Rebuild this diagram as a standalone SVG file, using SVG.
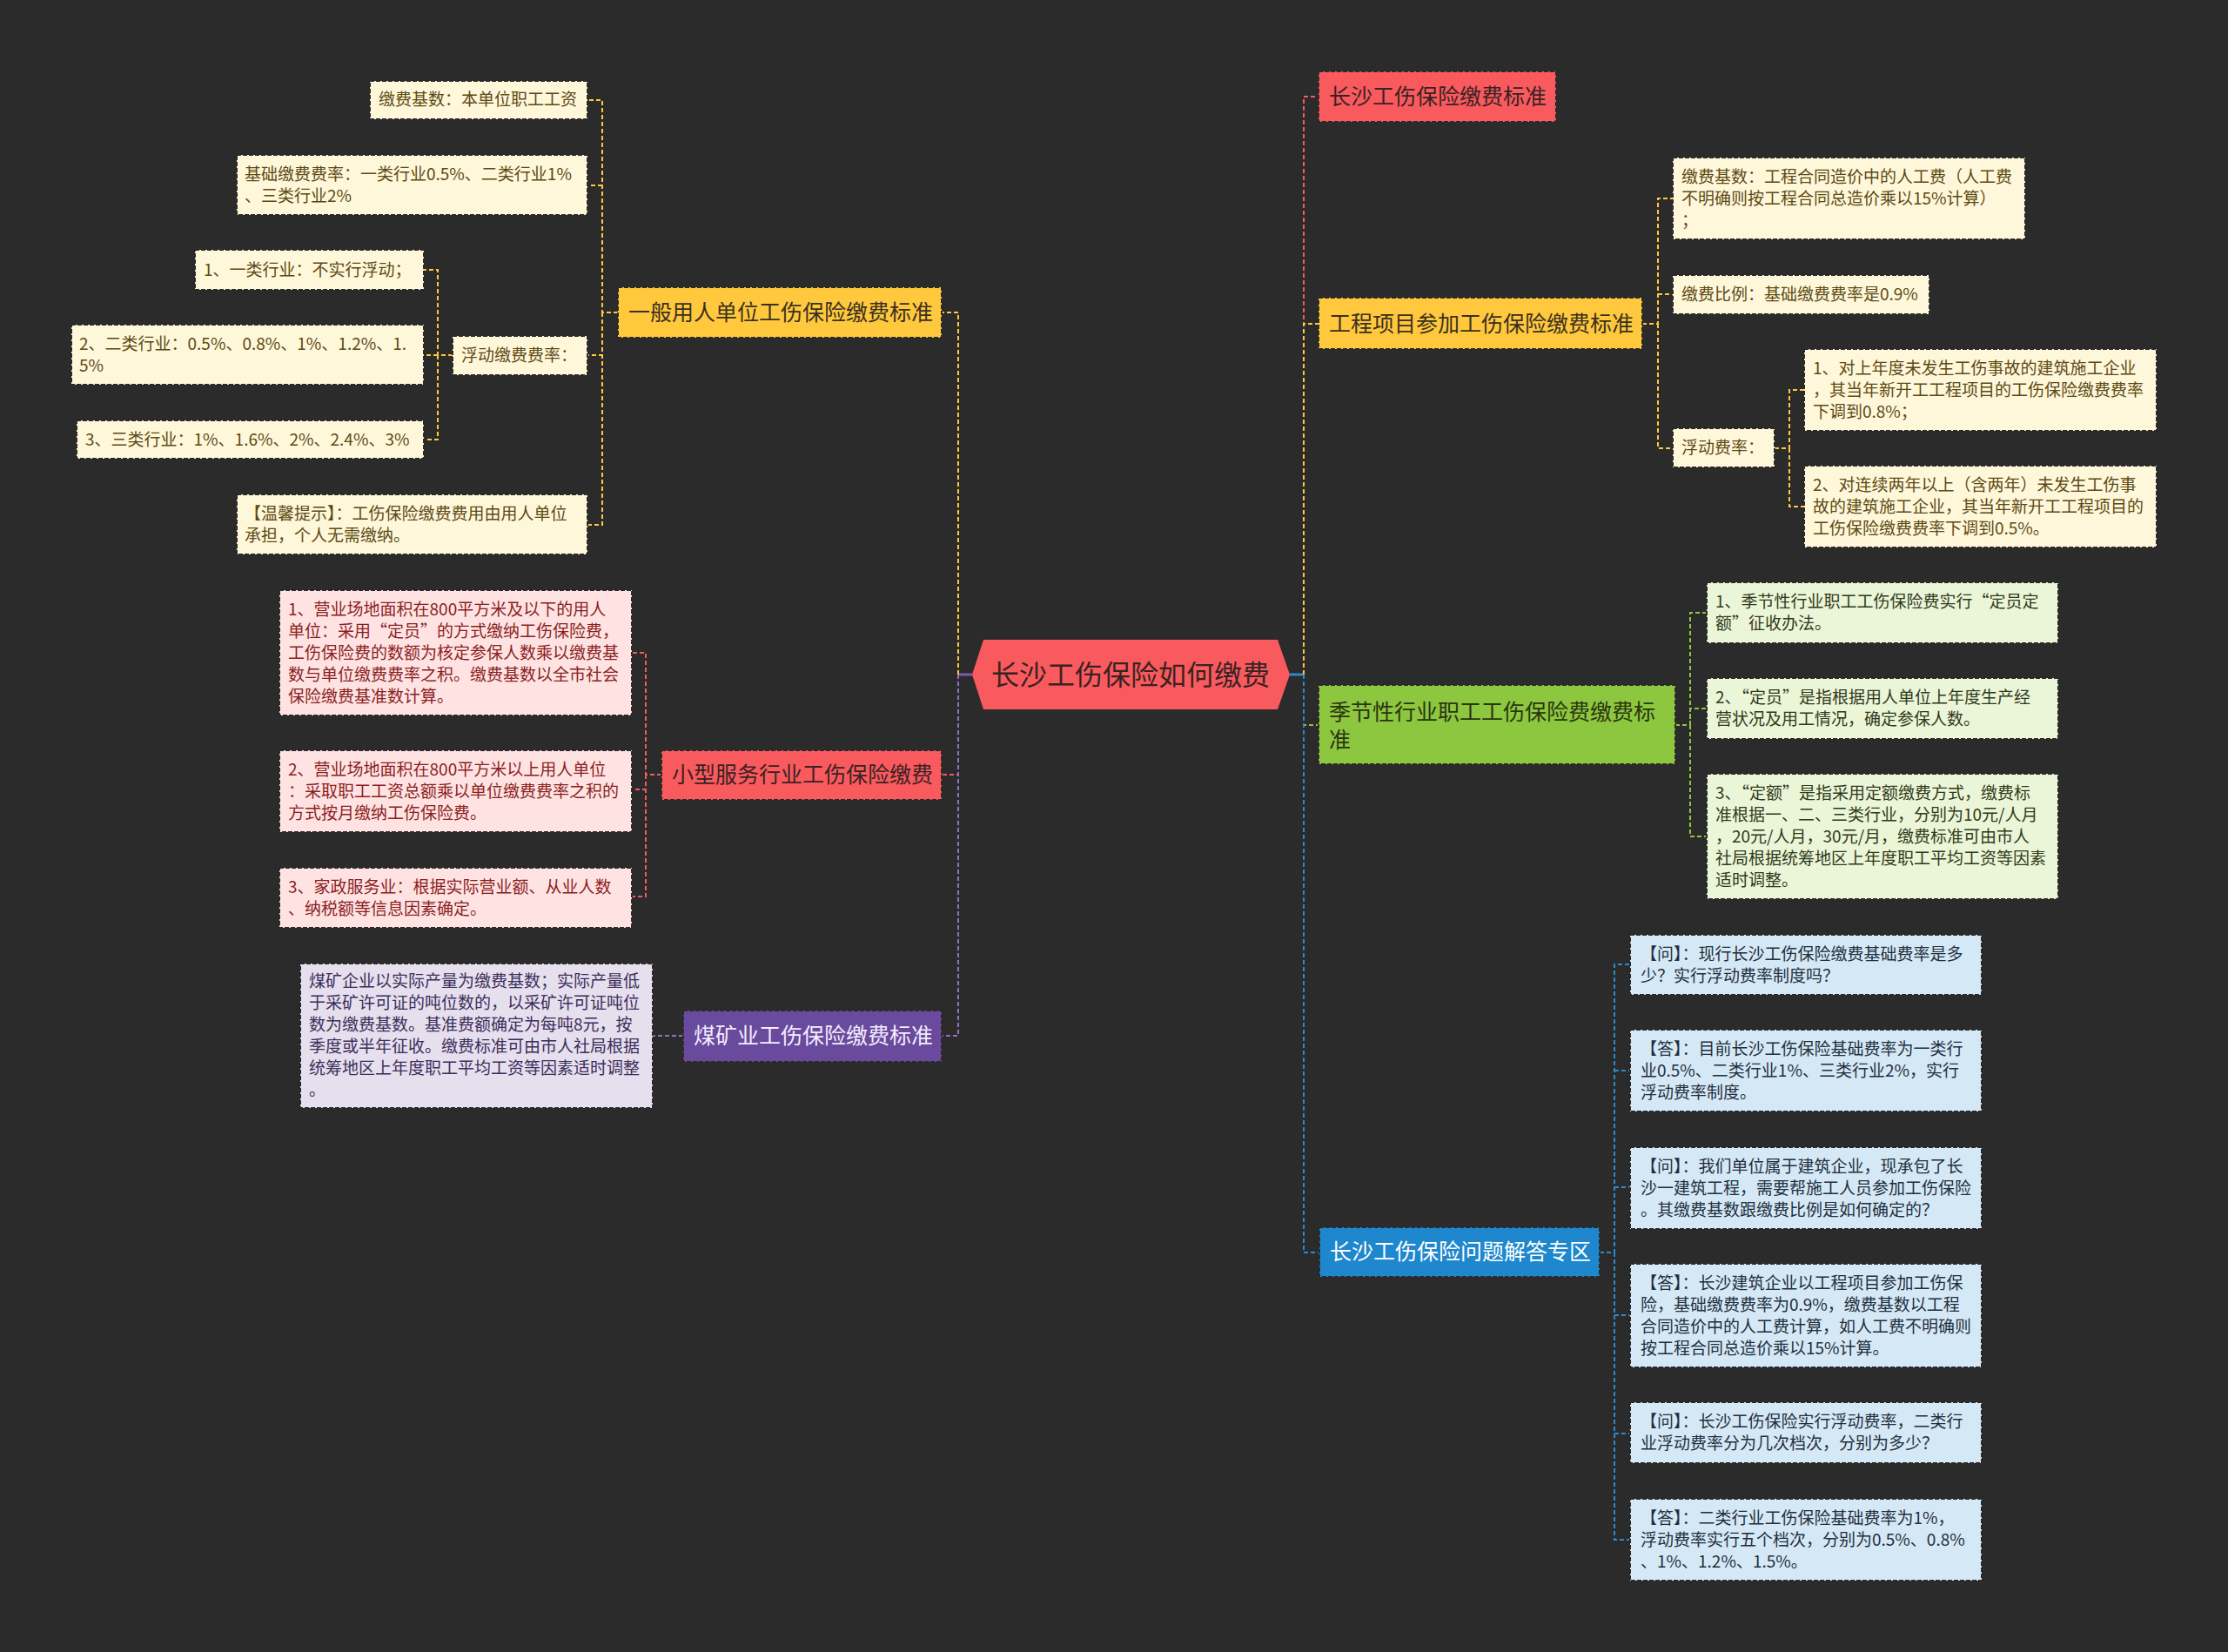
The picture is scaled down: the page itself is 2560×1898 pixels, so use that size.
<svg xmlns="http://www.w3.org/2000/svg" width="2560" height="1898" viewBox="0 0 2560 1898">
<defs>
<style>
text{font-family:"Noto Sans CJK SC","Microsoft YaHei",sans-serif;}
.t{font-size:19px;}
.tb{font-size:25px;}
.tr{font-size:32px;}
.bx{stroke:#2a2a2a;stroke-width:2;stroke-dasharray:5 2;}
.cn{fill:none;stroke-width:2;stroke-dasharray:5 3;}
.cy{stroke:#FFC83D;}
.cr{stroke:#F65A5E;}
.cp{stroke:#8E72C0;}
.cg{stroke:#8DC63F;}
.cb{stroke:#2A8AD0;}
.fy{fill:#FFF7DA;} .ty{fill:#5C4A14;}
.fr{fill:#FFE3E3;} .trd{fill:#8B1E1E;}
.fp{fill:#E5DFEE;} .tp{fill:#3D2E5A;}
.fg{fill:#EBF5D8;} .tg{fill:#2F3A1A;}
.fb{fill:#D5E8F5;} .tbl{fill:#1F2F3F;}
</style>
</defs>
<rect width="2560" height="1898" fill="#2B2B2B"/>

<g id="connectors">
<!-- root stubs -->
<path d="M1117,775 H1101" fill="none" stroke="#7B5BB0" stroke-width="3"/>
<path d="M1482,775 H1498" fill="none" stroke="#2A8AD0" stroke-width="3"/>
<!-- left main -->
<path class="cn cr" d="M1101,775 V890 H1082"/>
<path class="cn cp" d="M1101,775 V1190 H1082"/>
<path class="cn cy" d="M1101,775 V359 H1082"/>
<!-- right main -->
<path class="cn cr" d="M1498,775 V111 H1515"/>
<path class="cn cy" d="M1498,775 V372 H1515"/>
<path class="cn cg" d="M1498,775 V833 H1515"/>
<path class="cn cb" d="M1498,775 V1439 H1515"/>
<!-- 一般用人 children -->
<path class="cn cy" d="M710,359 H692 V115 H675"/>
<path class="cn cy" d="M692,213 H675"/>
<path class="cn cy" d="M692,359 V408 H675"/>
<path class="cn cy" d="M692,359 V603 H675"/>
<path class="cn cy" d="M520,408 H503 V310 H487"/>
<path class="cn cy" d="M503,408 H487"/>
<path class="cn cy" d="M503,408 V505 H487"/>
<!-- 小型服务 children -->
<path class="cn cr" d="M760,890 H742 V750 H726"/>
<path class="cn cr" d="M742,890 V907 H726"/>
<path class="cn cr" d="M742,890 V1030 H726"/>
<!-- 煤矿 child -->
<path class="cn cp" d="M785,1190 H750"/>
<!-- 工程项目 children -->
<path class="cn cy" d="M1887,372 H1905 V228 H1922"/>
<path class="cn cy" d="M1905,338 H1922"/>
<path class="cn cy" d="M1905,372 V515 H1922"/>
<path class="cn cy" d="M2039,515 H2056 V448 H2073"/>
<path class="cn cy" d="M2056,515 V582 H2073"/>
<!-- 季节性 children -->
<path class="cn cg" d="M1925,833 H1942 V704 H1961"/>
<path class="cn cg" d="M1942,833 V814 H1961"/>
<path class="cn cg" d="M1942,833 V961 H1961"/>
<!-- 问答 children -->
<path class="cn cb" d="M1838,1439 H1855 V1108 H1873"/>
<path class="cn cb" d="M1855,1230 H1873"/>
<path class="cn cb" d="M1855,1364 H1873"/>
<path class="cn cb" d="M1855,1439 V1511 H1873"/>
<path class="cn cb" d="M1855,1439 V1647 H1873"/>
<path class="cn cb" d="M1855,1439 V1769 H1873"/>
</g>

<g id="root">
<polygon points="1117,775 1130,735 1468,735 1482,775 1468,815 1130,815" fill="#F85A5E"/>
<text class="tr" x="1299" y="787" text-anchor="middle" fill="#3A2222">长沙工伤保险如何缴费</text>
</g>

<!-- left branch 1 -->
<g id="n-yiban">
<rect class="bx" x="710" y="330" width="372" height="58" fill="#FFC83D"/>
<text class="tb" x="722" y="368" fill="#3A3020">一般用人单位工伤保险缴费标准</text>
</g>
<g id="n-yiban-1">
<rect class="bx fy" x="425" y="93" width="250" height="44"/>
<text class="t ty" x="435" y="121">缴费基数：本单位职工工资</text>
</g>
<g id="n-yiban-2">
<rect class="bx fy" x="272" y="178" width="403" height="69"/>
<text class="t ty" x="281" y="207">基础缴费费率：一类行业0.5%、二类行业1%<tspan x="281" dy="25">、三类行业2%</tspan></text>
</g>
<g id="n-yiban-3">
<rect class="bx fy" x="520" y="386" width="155" height="45"/>
<text class="t ty" x="530" y="415">浮动缴费费率：</text>
</g>
<g id="n-yiban-3-1">
<rect class="bx fy" x="224" y="287" width="263" height="46"/>
<text class="t ty" x="234" y="317">1、一类行业：不实行浮动；</text>
</g>
<g id="n-yiban-3-2">
<rect class="bx fy" x="82" y="373" width="405" height="69"/>
<text class="t ty" x="91" y="402">2、二类行业：0.5%、0.8%、1%、1.2%、1.<tspan x="91" dy="25">5%</tspan></text>
</g>
<g id="n-yiban-3-3">
<rect class="bx fy" x="88" y="483" width="399" height="44"/>
<text class="t ty" x="98" y="512">3、三类行业：1%、1.6%、2%、2.4%、3%</text>
</g>
<g id="n-yiban-4">
<rect class="bx fy" x="272" y="568" width="403" height="69"/>
<text class="t ty" x="281" y="597">【温馨提示】：工伤保险缴费费用由用人单位<tspan x="281" dy="25">承担，个人无需缴纳。</tspan></text>
</g>

<!-- left branch 2 -->
<g id="n-xiaoxing">
<rect class="bx" x="760" y="862" width="322" height="57" fill="#F85A5E"/>
<text class="tb" x="772" y="899" fill="#3A2222">小型服务行业工伤保险缴费</text>
</g>
<g id="n-xiaoxing-1">
<rect class="bx fr" x="321" y="678" width="405" height="144"/>
<text class="t trd" x="331" y="707">1、营业场地面积在800平方米及以下的用人<tspan x="331" dy="25">单位：采用“定员”的方式缴纳工伤保险费，</tspan><tspan x="331" dy="25">工伤保险费的数额为核定参保人数乘以缴费基</tspan><tspan x="331" dy="25">数与单位缴费费率之积。缴费基数以全市社会</tspan><tspan x="331" dy="25">保险缴费基准数计算。</tspan></text>
</g>
<g id="n-xiaoxing-2">
<rect class="bx fr" x="321" y="862" width="405" height="94"/>
<text class="t trd" x="331" y="891">2、营业场地面积在800平方米以上用人单位<tspan x="331" dy="25">：采取职工工资总额乘以单位缴费费率之积的</tspan><tspan x="331" dy="25">方式按月缴纳工伤保险费。</tspan></text>
</g>
<g id="n-xiaoxing-3">
<rect class="bx fr" x="321" y="997" width="405" height="69"/>
<text class="t trd" x="331" y="1026">3、家政服务业：根据实际营业额、从业人数<tspan x="331" dy="25">、纳税额等信息因素确定。</tspan></text>
</g>

<!-- left branch 3 -->
<g id="n-meikuang">
<rect class="bx" x="785" y="1161" width="297" height="59" fill="#6A4A9C"/>
<text class="tb" x="797" y="1199" fill="#F2ECFF">煤矿业工伤保险缴费标准</text>
</g>
<g id="n-meikuang-1">
<rect class="bx fp" x="345" y="1107" width="405" height="166"/>
<text class="t tp" x="355" y="1134">煤矿企业以实际产量为缴费基数；实际产量低<tspan x="355" dy="25">于采矿许可证的吨位数的，以采矿许可证吨位</tspan><tspan x="355" dy="25">数为缴费基数。基准费额确定为每吨8元，按</tspan><tspan x="355" dy="25">季度或半年征收。缴费标准可由市人社局根据</tspan><tspan x="355" dy="25">统筹地区上年度职工平均工资等因素适时调整</tspan><tspan x="355" dy="25">。</tspan></text>
</g>

<!-- right branch 1 -->
<g id="n-biaozhun">
<rect class="bx" x="1515" y="82" width="273" height="58" fill="#F85A5E"/>
<text class="tb" x="1527" y="120" fill="#3A2222">长沙工伤保险缴费标准</text>
</g>

<!-- right branch 2 -->
<g id="n-gongcheng">
<rect class="bx" x="1515" y="342" width="372" height="59" fill="#FFC83D"/>
<text class="tb" x="1527" y="381" fill="#3A3020">工程项目参加工伤保险缴费标准</text>
</g>
<g id="n-gongcheng-1">
<rect class="bx fy" x="1922" y="181" width="405" height="94"/>
<text class="t ty" x="1932" y="210">缴费基数：工程合同造价中的人工费（人工费<tspan x="1932" dy="25">不明确则按工程合同总造价乘以15%计算）</tspan><tspan x="1932" dy="25">；</tspan></text>
</g>
<g id="n-gongcheng-2">
<rect class="bx fy" x="1922" y="316" width="295" height="45"/>
<text class="t ty" x="1932" y="345">缴费比例：基础缴费费率是0.9%</text>
</g>
<g id="n-gongcheng-3">
<rect class="bx fy" x="1922" y="492" width="117" height="45"/>
<text class="t ty" x="1932" y="521">浮动费率：</text>
</g>
<g id="n-gongcheng-3-1">
<rect class="bx fy" x="2073" y="401" width="405" height="94"/>
<text class="t ty" x="2083" y="430">1、对上年度未发生工伤事故的建筑施工企业<tspan x="2083" dy="25">，其当年新开工工程项目的工伤保险缴费费率</tspan><tspan x="2083" dy="25">下调到0.8%；</tspan></text>
</g>
<g id="n-gongcheng-3-2">
<rect class="bx fy" x="2073" y="535" width="405" height="94"/>
<text class="t ty" x="2083" y="564">2、对连续两年以上（含两年）未发生工伤事<tspan x="2083" dy="25">故的建筑施工企业，其当年新开工工程项目的</tspan><tspan x="2083" dy="25">工伤保险缴费费率下调到0.5%。</tspan></text>
</g>

<!-- right branch 3 -->
<g id="n-jijie">
<rect class="bx" x="1515" y="787" width="410" height="91" fill="#8DC63F"/>
<text class="tb" x="1527" y="827" fill="#2A3510">季节性行业职工工伤保险费缴费标<tspan x="1527" dy="32">准</tspan></text>
</g>
<g id="n-jijie-1">
<rect class="bx fg" x="1961" y="669" width="404" height="70"/>
<text class="t tg" x="1971" y="698">1、季节性行业职工工伤保险费实行“定员定<tspan x="1971" dy="25">额”征收办法。</tspan></text>
</g>
<g id="n-jijie-2">
<rect class="bx fg" x="1961" y="779" width="404" height="70"/>
<text class="t tg" x="1971" y="808">2、“定员”是指根据用人单位上年度生产经<tspan x="1971" dy="25">营状况及用工情况，确定参保人数。</tspan></text>
</g>
<g id="n-jijie-3">
<rect class="bx fg" x="1961" y="889" width="404" height="144"/>
<text class="t tg" x="1971" y="918">3、“定额”是指采用定额缴费方式，缴费标<tspan x="1971" dy="25">准根据一、二、三类行业，分别为10元/人月</tspan><tspan x="1971" dy="25">，20元/人月，30元/月，缴费标准可由市人</tspan><tspan x="1971" dy="25">社局根据统筹地区上年度职工平均工资等因素</tspan><tspan x="1971" dy="25">适时调整。</tspan></text>
</g>

<!-- right branch 4 -->
<g id="n-wenda">
<rect class="bx" x="1516" y="1410" width="322" height="57" fill="#1E87CD"/>
<text class="tb" x="1528" y="1447" fill="#FFFFFF">长沙工伤保险问题解答专区</text>
</g>
<g id="n-wenda-1">
<rect class="bx fb" x="1873" y="1074" width="404" height="69"/>
<text class="t tbl" x="1885" y="1103">【问】：现行长沙工伤保险缴费基础费率是多<tspan x="1885" dy="25">少？实行浮动费率制度吗？</tspan></text>
</g>
<g id="n-wenda-2">
<rect class="bx fb" x="1873" y="1183" width="404" height="94"/>
<text class="t tbl" x="1885" y="1212">【答】：目前长沙工伤保险基础费率为一类行<tspan x="1885" dy="25">业0.5%、二类行业1%、三类行业2%，实行</tspan><tspan x="1885" dy="25">浮动费率制度。</tspan></text>
</g>
<g id="n-wenda-3">
<rect class="bx fb" x="1873" y="1318" width="404" height="94"/>
<text class="t tbl" x="1885" y="1347">【问】：我们单位属于建筑企业，现承包了长<tspan x="1885" dy="25">沙一建筑工程，需要帮施工人员参加工伤保险</tspan><tspan x="1885" dy="25">。其缴费基数跟缴费比例是如何确定的？</tspan></text>
</g>
<g id="n-wenda-4">
<rect class="bx fb" x="1873" y="1452" width="404" height="119"/>
<text class="t tbl" x="1885" y="1481">【答】：长沙建筑企业以工程项目参加工伤保<tspan x="1885" dy="25">险，基础缴费费率为0.9%，缴费基数以工程</tspan><tspan x="1885" dy="25">合同造价中的人工费计算，如人工费不明确则</tspan><tspan x="1885" dy="25">按工程合同总造价乘以15%计算。</tspan></text>
</g>
<g id="n-wenda-5">
<rect class="bx fb" x="1873" y="1611" width="404" height="70"/>
<text class="t tbl" x="1885" y="1640">【问】：长沙工伤保险实行浮动费率，二类行<tspan x="1885" dy="25">业浮动费率分为几次档次，分别为多少？</tspan></text>
</g>
<g id="n-wenda-6">
<rect class="bx fb" x="1873" y="1722" width="404" height="94"/>
<text class="t tbl" x="1885" y="1751">【答】：二类行业工伤保险基础费率为1%，<tspan x="1885" dy="25">浮动费率实行五个档次，分别为0.5%、0.8%</tspan><tspan x="1885" dy="25">、1%、1.2%、1.5%。</tspan></text>
</g>
</svg>
